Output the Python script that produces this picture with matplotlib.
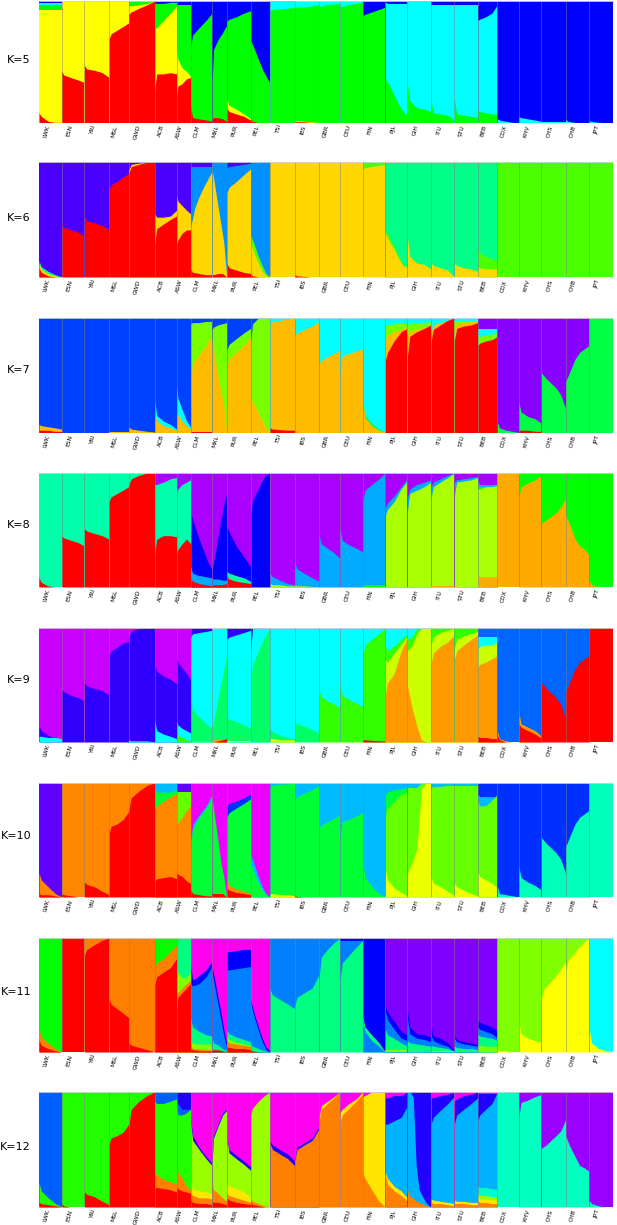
import numpy as np
import matplotlib
matplotlib.use("Agg")
import matplotlib.pyplot as plt

# populations and number of individuals in each
pops = ["LWK","ESN","YRI","MSL","GWD","ACB","ASW","CLM","MXL","PUR","PEL","TSI","IBS",
        "GBR","CEU","FIN","PJL","GIH","ITU","STU","BEB","CDX","KHV","CHS","CHB","JPT"]
sizes = [99,99,108,85,113,96,61,94,64,104,85,107,107,91,99,99,96,103,102,102,86,93,99,105,103,104]

# each population: layers from back to front, (colour, top height % along the sorted individuals)
# five values sit closer together on the left, where the sorted curves bend most
knots5 = [0, .1, .4, .72, 1]

colors5 = dict(r="#ff0000", y="#ffff00", g="#00ff00", c="#00ffff", b="#0000ff")
k5 = [
 [("b",100),("c",98),("g",97),("y",93),("r",8,5,1,0,0)],
 [("y",100),("r",42,39,37,35,33)],
 [("y",100),("r",47,44,43,41,37)],
 [("y",100),("r",69,73,76,79,82)],
 [("g",100),("y",96,96,97,98,100),("r",89,91,94,97,100)],
 [("b",100),("g",98,98,98,99,99),("y",77,78,84,90,96),("r",26,40,40,41,40)],
 [("b",100),("g",97),("y",60,52,45,42,38),("r",22,30,32,36,37)],
 [("b",100),("g",62,72,78,84,90),("r",13,4,3,2,1)],
 [("b",100),("g",33,60,68,74,80),("r",3,4,4,3,1)],
 [("b",100),("g",83,85,87,90,92),("y",20,14,11,7,3),("r",12,9,7,5,2)],
 [("b",100),("g",68,60,52,44,38,32),("r",3,1,0,0,0)],
 [("b",100),("c",99.5),("g",92,93,93.5,94,95)],
 [("c",100),("g",94,95,95,96,97),("y",2,1.5,1,.5,0),("r",1,.7,.5,0,0)],
 [("c",100),("g",95,96,97,97.5,98)],
 [("c",100),("g",95,96,97,98,99)],
 [("b",100),("g",88,89,91,93,95)],
 [("b",100),("c",99,98,98,98,98),("g",36,30,22,15,9,6)],
 [("b",100),("c",99.5),("g",32,18,12,11,9)],
 [("b",100),("c",97),("g",18,8,7,6,2)],
 [("b",100),("c",97),("g",20,7,6,5,4)],
 [("b",100),("c",84,85,87,90,97),("g",10,9,8,7,7)],
 [("b",100),("c",3,2,1,0,0)],
 [("b",100),("c",5,4,3,2,1)],
 [("b",100),("c",.5)],
 [("b",100),("c",3,1,0,0,0)],
 [("b",100),("c",1.5,1,0,0,0)],
]

colors6 = dict(i="#4b00ff", r="#ff0000", y="#ffd700", l="#4cff00", s="#00ff88", a="#0090ff")
k6 = [
 [("i",100),("s",14,9,5,2,0),("y",12,7,3,1,0),("r",8,4,1,0,0)],
 [("i",100),("r",45,43,41,39,36)],
 [("i",100),("r",52,49,47,45,41)],
 [("i",100),("r",76,80,83,87,90)],
 [("i",100),("y",93,98,99,100,100),("r",90,96,98,100,100)],
 [("i",100),("y",55,52,52,53,58),("r",28,42,46,50,53)],
 [("i",100),("y",71,66,62,58,55),("r",28,32,38,41,41)],
 [("i",100),("a",96),("y",43,60,70,78,85,92),("r",7,4,3,2,2)],
 [("a",100),("y",94,78,62,46,30,0),("r",2,2,3,3,0)],
 [("i",100),("a",95,96,97,98,99),("y",73,78,83,89,94),("r",12,8,6,4,3)],
 [("a",100),("l",37,28,18,10,3,0),("y",30,20,12,5,1,0),("r",3,1,0,0,0)],
 [("y",100)],
 [("y",100),("r",2,1,.5,0,0)],
 [("y",100)],
 [("y",100)],
 [("l",100),("y",94,95,96,97,98)],
 [("s",100),("l",40,34,26,18,11,9),("y",38,30,24,16,10,8)],
 [("s",100),("y",35,18,12,11,7)],
 [("s",100),("y",13,10,8,6,0)],
 [("s",100),("y",12,10,8,7,5)],
 [("s",100),("l",25,21,18,16,14),("y",8,8,7,7,7)],
 [("l",100)],
 [("l",100)],
 [("l",100)],
 [("l",100),("y",1,.5,0,0,0)],
 [("l",100)],
]

colors7 = dict(b="#0040ff", o="#ffbb00", l="#77ff00", c="#00ffff", r="#ff0000", p="#8800ff", s="#00ff44")
k7 = [
 [("b",100),("o",7,6,5,4,3),("r",2,2,2,1,1)],
 [("b",100)],
 [("b",100)],
 [("b",100),("o",.5)],
 [("b",100),("o",5,3,2,1,.5)],
 [("b",100),("c",28,15,10,7,3),("o",18,10,6,4,2)],
 [("b",100),("c",42,30,20,10,5),("o",20,15,10,6,3)],
 [("b",100),("l",95,96,96,97,97),("o",47,60,68,76,85),("r",.5)],
 [("b",100),("l",90,92,94,95,96),("o",82,65,50,36,24,0)],
 [("b",100),("l",72,77,82,87,91),("o",58,64,70,76,83)],
 [("b",100),("l",78,95,100,100,100),("o",30,24,17,10,4,0)],
 [("c",100),("o",95,97,98,99,100),("r",4,3,2.5,2,2)],
 [("c",100),("o",84,87,90,93,97)],
 [("c",100),("o",60,63,66,69,72)],
 [("c",100),("o",52,67,69,71,73)],
 [("c",100),("s",30,15,8,3,0),("o",28,13,6,2,0)],
 [("c",100),("l",94,94,95,96,96),("o",82,85,88,90,92),("r",63,70,80,88,91)],
 [("c",100),("l",94,95,96,96,97),("o",85,88,90,92,94),("r",66,84,88,91,94)],
 [("c",100),("o",88,94,96,98,100),("r",79,90,94,98,100)],
 [("c",100),("l",97),("o",92,95,96,97,98),("r",80,91,93,94,96)],
 [("p",100),("c",90),("l",85,84,85,86,88),("r",76,78,80,81,84)],
 [("p",100),("s",9,4,2,1,0)],
 [("p",100),("s",27,18,14,12,8),("r",2,2,2,1,1)],
 [("p",100),("s",52,47,43,39,33,21)],
 [("p",100),("s",44,54,64,70,73,76)],
 [("s",100)],
]

colors8 = dict(s="#00ffaa", r="#ff0000", o="#ffaa00", l="#aaff00", g="#00ff00", a="#00aaff", b="#0000ff", p="#aa00ff")
k8 = [
 [("s",100),("r",8,4,1,0,0)],
 [("s",100),("r",45,43,41,39,36)],
 [("s",100),("r",51,49,47,45,42)],
 [("s",100),("r",75,79,82,85,88)],
 [("s",100),("r",89,95,98,100,100)],
 [("p",100),("s",90,90,92,95,96),("r",28,42,45,45,44)],
 [("p",100),("s",82,86,90,92,94),("r",28,33,38,42,38)],
 [("p",100),("b",65,53,42,32,22,15),("a",18,12,10,9,8),("r",8,5,3,2,1)],
 [("p",100),("b",15,28,44,58,72,82),("a",8,7,7,6,6),("r",2,2,2,2,3)],
 [("p",100),("b",53,44,36,30,24,18),("s",14,12,10,8,5),("r",10,7,5,4,3)],
 [("p",100),("b",62,76,86,97,100)],
 [("p",100),("a",12,9,6,3,2),("l",3,2,2,1,1)],
 [("p",100),("a",22,16,12,8,5),("l",2,1,1,.5,0)],
 [("p",100),("a",46,38,34,30,25)],
 [("p",100),("a",52,41,37,34,31)],
 [("p",100),("a",75,85,90,95,100),("g",2)],
 [("p",100),("a",70,74,80,88,95),("l",63,68,75,86,93)],
 [("p",100),("a",78,86,90,92,94),("l",66,82,85,88,92)],
 [("p",100),("a",88,92,95,98,100),("l",78,88,92,96,100),("o",1)],
 [("p",100),("a",92,94,95,96,97),("l",80,92,93,94,96)],
 [("p",100),("a",94,90,90,90,90),("g",90,88,88,88,90),("l",86,86,88,88,89),("o",10,9,9,9,9)],
 [("o",100)],
 [("g",100),("o",78,88,91,94,98)],
 [("g",100),("o",56,59,62,65,70,78)],
 [("g",100),("o",63,54,42,36,33,28)],
 [("g",100),("o",6,2,0,0,0)],
]

colors9 = dict(p="#c800ff", i="#3000ff", c="#00ffff", s="#00ff66", g="#33ff00", l="#ccff00", o="#ff9900", r="#ff0000", a="#0066ff")
k9 = [
 [("p",100),("i",14,10,6,3,2),("c",5,5,4,4,3)],
 [("p",100),("i",46,44,41,39,36)],
 [("p",100),("i",52,49,47,45,41)],
 [("p",100),("i",76,80,83,87,88)],
 [("p",100),("i",92,97,100,100,100),("c",2,1,1,1,0)],
 [("p",100),("i",68,62,58,55,51),("c",20,10,7,5,3)],
 [("p",100),("i",75,70,65,60,55),("c",18,15,12,10,8),("g",8,6,4,2,1)],
 [("i",100),("c",92,95,96,97,98),("s",35,28,22,16,12),("o",.5)],
 [("c",100),("s",12,24,38,50,64,76),("o",3,2,2,2,3),("r",0,0,1,2,3)],
 [("i",100),("c",90,92,94,96,98),("s",22,20,18,15,12),("l",1)],
 [("i",100),("c",80,100,100,100,100),("s",53,68,80,92,100)],
 [("c",100),("s",12,9,6,4,3),("l",3,3,2,2,2)],
 [("c",100),("s",18,16,14,11,8)],
 [("c",100),("g",45,40,36,33,30)],
 [("c",100),("g",52,41,37,34,31)],
 [("c",100),("g",75,85,90,95,100),("r",2,2,1.5,1,1)],
 [("c",100),("g",84,80,84,90,95),("l",72,70,78,86,93),("o",42,52,60,80,92)],
 [("c",100),("g",90,92,100,100,100,100),("l",80,85,95,100,100,100),("o",50,30,14,2,0,0)],
 [("g",100),("l",85,92,96,98,100),("o",68,78,84,88,94)],
 [("g",100),("l",82,90,93,95,97),("o",72,80,85,90,94)],
 [("a",100),("c",92),("s",85,83,84,85,88),("l",82,84,85,85,88),("o",66,68,70,73,76),("r",5,4,4,3,3)],
 [("a",100),("o",9,3,1,0,0),("r",6,2,0,0,0)],
 [("a",100),("o",27,16,13,10,5),("r",16,13,10,7,3)],
 [("a",100),("r",52,47,43,39,33,21)],
 [("a",100),("r",44,54,64,70,73,76)],
 [("r",100)],
]

colors10 = dict(i="#6000ff", o="#ff8800", r="#ff0000", m="#ee00ff", g="#00ff33", l="#66ff00", y="#eeff00", a="#00bbff", b="#0030ff", s="#00ffbb")
k10 = [
 [("i",100),("o",21,15,9,3,0),("r",3,2,2,1,0)],
 [("o",100),("r",3,2,1,0,0)],
 [("o",100),("r",13,11,9,5,2)],
 [("o",100),("r",56,62,64,68,75)],
 [("o",100),("r",75,87,93,98,100)],
 [("a",100),("g",95,92,92,92,94),("o",76,80,84,88,91),("r",14,16,17,18,16)],
 [("i",100),("l",92),("o",62,65,70,76,80),("r",22,20,18,14,12)],
 [("m",100),("a",48,64,72,80,90),("g",45,60,70,78,87),("r",7,3,2,1,1)],
 [("m",100),("g",88,68,50,30,18,0),("r",3,3,3,3,0)],
 [("m",100),("b",80,82,84,87,90),("g",70,74,78,82,86),("o",16,10,7,5,3),("r",8,6,4,3,2)],
 [("m",100),("a",38,28,18,9,3,0),("g",30,20,12,6,2,0)],
 [("a",100),("g",97,98,99,99,100),("y",3,3,2,2,1)],
 [("a",100),("g",85,88,91,94,98),("r",1,.5,0,0,0)],
 [("a",100),("g",60,63,66,69,72)],
 [("a",100),("g",52,66,68,71,74)],
 [("a",100),("g",32,18,9,3,0)],
 [("a",100),("g",90,92,94,95,96),("l",72,78,84,90,92),("y",24,15,8,4,1)],
 [("a",100),("l",96,96,96,100,100,100),("y",20,30,42,95,100,100)],
 [("a",100),("l",96,97,97,98,98),("y",18,12,9,5,1)],
 [("a",100),("l",97),("y",12,9,6,3,1)],
 [("b",100),("a",90,88,88,88,88),("l",85,80,80,85,90),("y",22,18,15,12,8)],
 [("b",100),("s",9,3,2,1,0)],
 [("b",100),("s",27,17,13,10,6)],
 [("b",100),("s",52,47,43,39,33,21)],
 [("b",100),("s",44,54,64,70,73,76)],
 [("s",100)],
]

colors11 = dict(g="#00ff00", r="#ff0000", o="#ff8000", m="#ff00ee", b="#0000ff", a="#0080ff", s="#00ff80", p="#8000ff", l="#80ff00", y="#ffff00", c="#00ffff")
k11 = [
 [("g",100),("o",21,13,8,3,0),("r",10,6,3,1,0)],
 [("r",100)],
 [("o",100),("r",85,90,94,98,100)],
 [("o",100),("r",46,42,38,34,30)],
 [("o",100),("r",8,6,4,2,0)],
 [("g",100),("o",74,78,82,88,94),("r",58,66,70,74,82)],
 [("s",100),("l",75,70,65,66,70),("o",48,52,56,60,63),("r",36,48,52,56,60)],
 [("m",100),("b",78,63,67,72,80),("a",60,58,60,66,75),("s",30,22,18,15,14),("l",10,8,7,7,7),("o",5,3,3,2,2),("r",3,2,1,1,1)],
 [("m",100),("b",75,62,48,35,20,8),("a",70,56,42,28,14,4),("s",12,8,6,3,1),("r",2,2,2,1,0)],
 [("m",100),("b",88,88,89,90,90),("a",72,72,73,74,75),("s",19,16,13,11,9),("l",14,11,9,7,6),("o",10,8,7,6,5),("r",5,4,3,3,2)],
 [("m",100),("b",46,33,22,12,4,1),("a",43,30,19,9,2,0),("s",8,5,3,1,0),("r",2,1,0,0,0)],
 [("a",100),("s",55,50,46,42,38)],
 [("a",100),("s",40,48,52,56,68)],
 [("a",100),("s",65,83,90,96,100)],
 [("b",100),("a",97),("s",63,78,85,92,98)],
 [("b",100),("s",32,22,15,8,0),("a",28,18,10,5,0)],
 [("p",100),("b",40,35,27,18,15),("a",36,28,20,12,10),("s",20,15,12,8,5),("l",2)],
 [("p",100),("b",36,22,16,15,13),("a",30,16,12,11,9),("s",10,8,7,6,5)],
 [("p",100),("b",22,14,12,8,1),("a",15,10,7,5,0),("s",6,5,4,3,0),("l",1)],
 [("p",100),("b",14,11,9,8,6),("a",12,9,7,6,5),("s",5,4,3,3,2)],
 [("p",100),("b",28,26,24,22,18),("a",22,20,18,16,12),("s",16,14,13,12,10),("l",6,6,5,5,5)],
 [("l",100),("y",2,1,1,0,0)],
 [("l",100),("y",27,16,12,10,8)],
 [("l",100),("y",47,55,62,70,80)],
 [("l",100),("y",68,80,88,95,100)],
 [("c",100),("y",20,8,3,1,0)],
]

colors12 = dict(a="#0060ff", g="#22ff00", r="#ff0000", m="#ff00ee", l="#99ff00", o="#ff8000", b="#2000ff", y="#ffe600", k="#00b3ff", s="#00ffc0", p="#9900ff")
k12 = [
 [("a",100),("g",21,14,8,3,0),("r",4,3,2,1,0)],
 [("g",100),("r",3,1,0,0,0)],
 [("g",100),("r",13,11,9,5,2)],
 [("g",100),("r",55,60,62,65,72)],
 [("g",100),("r",70,85,92,97,100)],
 [("a",100),("g",92,90,90,92,94),("o",30,28,24,22,20),("r",16,17,16,15,13)],
 [("b",100),("a",95,90,85,85,85),("g",90,80,80,82,85),("o",42,30,25,18,15),("r",18,16,14,13,12)],
 [("m",100),("b",78,62,52,44,38),("l",74,58,50,42,36),("y",22,15,14,13,12),("o",12,10,8,8,7),("r",6,4,3,3,2)],
 [("m",100),("b",40,62,72,82,85),("l",38,60,70,80,84),("o",20,15,12,8,5),("r",5,4,4,3,2)],
 [("m",100),("b",62,50,45,40,35),("l",60,47,42,37,32),("y",20,18,16,13,8),("o",12,10,8,6,4),("r",8,6,4,3,2)],
 [("m",100),("l",80,86,92,97,100),("o",8,5,3,1,0),("r",5,2,1,0,0)],
 [("m",100),("b",57,54,50,46,40),("o",55,50,46,42,36)],
 [("m",100),("b",42,52,56,60,70),("o",40,50,54,58,68)],
 [("m",100),("y",78,88,92,96,100),("o",74,85,90,95,100)],
 [("m",100),("y",82,85,90,94,100),("o",74,80,86,92,98)],
 [("m",100),("y",96,97,100,100,100),("o",30,25,15,5,0)],
 [("m",100),("b",95,95,97,97,100),("k",72,72,75,78,88),("y",30,25,18,14,8),("o",28,20,14,10,5)],
 [("b",100),("k",100,100,95,35,15,10,5,2,0),("o",15,10,5,2,0)],
 [("m",100),("b",95,95,97,98,100),("k",72,78,84,90,96),("y",7,6,5,4,3),("o",4,3,3,2,1)],
 [("m",100),("b",92,94,97,98,100),("k",72,80,85,90,95),("y",6,5,5,4,4),("o",3,3,3,2,2)],
 [("m",100),("b",98),("k",75,80,85,90,100),("s",18,17,17,16,15),("l",11,10,10,9,9),("y",8,7,7,6,6),("o",5,4,4,3,3)],
 [("s",100)],
 [("p",100),("s",78,91,93,96,98)],
 [("p",100),("s",51,54,58,62,66,76)],
 [("p",100),("s",62,52,44,36,34,31)],
 [("p",100),("s",6,3,1,0,0)],
]

panels = [("K=5",k5,colors5),("K=6",k6,colors6),("K=7",k7,colors7),("K=8",k8,colors8),
          ("K=9",k9,colors9),("K=10",k10,colors10),("K=11",k11,colors11),("K=12",k12,colors12)]
# top and bottom of each panel and height of its label, in pixels from the top of the picture
tops = [1,162,318,473,628,783,938,1092]
bottoms = [122.5,277,432.5,587,742,897,1052,1207]
label_y = [60,218,370,525,680,836,992,1147]

W, H = 617, 1225
fig = plt.figure(figsize=(W/100, H/100), dpi=100)
edges = np.concatenate([[0], np.cumsum(sizes)])
centers = (edges[:-1] + edges[1:]) / 2

for (name, data, colors), t, b, ly in zip(panels, tops, bottoms, label_y):
    ax = fig.add_axes([39/W, 1 - b/H, 574/W, (b - t)/H])
    for i, layers in enumerate(data):
        for layer in layers:
            vals = list(layer[1:])
            if len(vals) == 1:
                vals = vals * 2
            if len(vals) == 5:
                fr = np.array(knots5)
            else:
                fr = np.linspace(0, 1, len(vals))
            xs = edges[i] + fr * sizes[i]
            ax.fill_between(xs, 0, vals, color=colors[layer[0]], lw=0)
    for e in edges[1:-1]:
        ax.axvline(e, color="gray", lw=0.5, alpha=0.7)
    ax.set_xlim(0, edges[-1])
    ax.set_ylim(0, 100)
    ax.set_yticks([])
    ax.set_xticks(centers)
    ax.set_xticklabels(pops, rotation=75, fontsize=4.3, ha="right")
    ax.tick_params(axis="x", length=0, pad=1.5)
    for side, s in ax.spines.items():
        s.set_visible(side == "top")
        s.set_color("lightgray")
        s.set_linewidth(0.6)
    fig.text(31/W, 1 - ly/H, name, fontsize=8, ha="right", va="center")

fig.savefig("out.png", dpi=100)
